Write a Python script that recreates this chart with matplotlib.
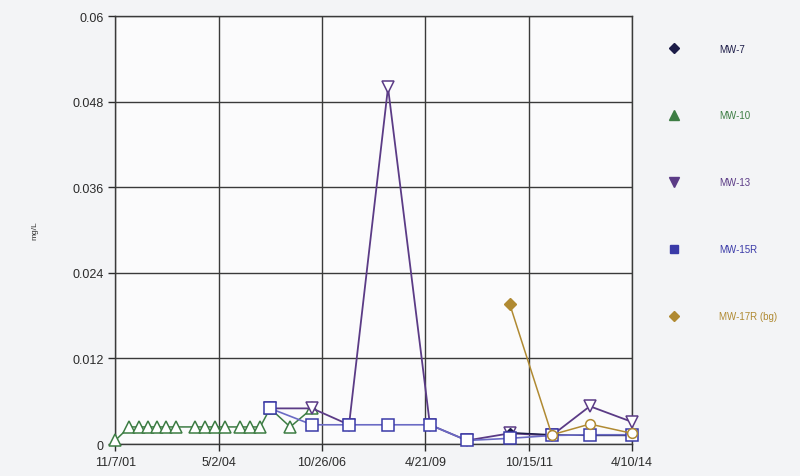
import numpy as np
import pandas as pd
import matplotlib
matplotlib.use("Agg")
import matplotlib.pyplot as plt
from matplotlib.lines import Line2D

plt.rcParams['font.family'] = ['Liberation Sans', 'DejaVu Sans']

# --- data (mg/L) ---
mw10_dates = ['2001-11-07', '2002-03-10', '2002-06-06', '2002-08-24', '2002-11-11',
              '2003-01-29', '2003-04-26', '2003-10-10', '2004-01-06', '2004-04-03',
              '2004-06-29', '2004-11-08', '2005-02-04', '2005-05-03', '2005-07-29',
              '2006-01-21', '2006-08-02']
mw10_vals = [0.0005, 0.0024, 0.0024, 0.0024, 0.0024,
             0.0024, 0.0024, 0.0024, 0.0024, 0.0024,
             0.0024, 0.0024, 0.0024, 0.0024, 0.005,
             0.0024, 0.005]

late_dates = ['2005-07-29', '2006-08-02', '2007-06-22', '2008-05-29', '2009-06-01',
              '2010-04-22', '2011-05-03', '2012-05-06', '2013-04-05', '2014-04-10']
mw13_vals = [0.005, 0.005, 0.0027, 0.05, 0.0027,
             0.0005, 0.0015, 0.0012, 0.0053, 0.0031]
mw15r_vals = [0.005, 0.0027, 0.0027, 0.0027, 0.0027,
              0.0005, 0.0008, 0.0012, 0.0013, 0.0013]

mw7_dates = ['2011-05-03', '2012-05-06', '2013-04-05', '2014-04-10']
mw7_vals = [0.0016, 0.0013, 0.0012, 0.0012]

mw17r_dates = ['2011-05-03', '2012-05-06', '2013-04-05', '2014-04-10']
mw17r_vals = [0.0196, 0.0013, 0.0028, 0.0015]

xtick_dates = ['2001-11-07', '2004-05-02', '2006-10-26', '2009-04-21', '2011-10-15', '2014-04-10']
xtick_labels = ['11/7/01', '5/2/04', '10/26/06', '4/21/09', '10/15/11', '4/10/14']
yticks = [0, 0.012, 0.024, 0.036, 0.048, 0.06]

c7 = '#1c1c48'
c10 = '#3d7d44'
c13 = '#5b3b86'
c15 = '#3a3aa8'
c17 = '#b08a32'

fig = plt.figure(figsize=(8, 4.77), dpi=100)
fig.patch.set_facecolor('#f3f4f6')
ax = fig.add_axes([0.144, 0.067, 0.646, 0.897])
ax.set_facecolor('#fbfbfc')

d = pd.to_datetime
ax.plot(d(mw10_dates), mw10_vals, color=c10, lw=1.1, marker='^', ms=8,
        mfc='white', mec=c10, mew=1.1, clip_on=False, zorder=3)
ax.plot(d(late_dates), mw13_vals, color=c13, lw=1.3, marker='v', ms=8,
        mfc='white', mec=c13, mew=1.1, clip_on=False, zorder=4)
ax.plot(d(late_dates), mw15r_vals, color='#6a6ac4', lw=1.2, marker='s', ms=8,
        mfc='white', mec=c15, mew=1.1, clip_on=False, zorder=5)
ax.plot(d(mw7_dates), mw7_vals, color=c7, lw=1.0, marker='D', ms=5,
        mfc=c7, mec=c7, clip_on=False, zorder=4)
ax.plot(d(mw17r_dates), mw17r_vals, color=c17, lw=1.1, marker='o', ms=7,
        mfc='white', mec=c17, mew=1.1, markevery=[1, 2, 3], clip_on=False, zorder=6)
ax.plot(d(mw17r_dates), mw17r_vals, ls='none', marker='D', ms=6,
        mfc=c17, mec=c17, markevery=[0], zorder=6)

ax.set_xlim(d(xtick_dates[0]), d(xtick_dates[-1]))
ax.set_ylim(0, 0.06)
ax.set_xticks(d(xtick_dates))
ax.set_xticklabels(xtick_labels)
ax.set_yticks(yticks)
ax.set_yticklabels(['%g' % v for v in yticks])
ax.tick_params(axis='both', labelsize=9, colors='#2a2a2a', direction='out',
               length=5, width=1)
ax.grid(True, color='#3a3a3a', lw=1.0)
ax.set_axisbelow(True)
for s in ax.spines.values():
    s.set_color('#3a3a3a')
    s.set_linewidth(1.0)
ax.set_ylabel('mg/L', fontsize=6, color='#333333', labelpad=24)

handles = [
    Line2D([], [], ls='none', marker='D', ms=5, color=c7),
    Line2D([], [], ls='none', marker='^', ms=7, color=c10),
    Line2D([], [], ls='none', marker='v', ms=7, color=c13),
    Line2D([], [], ls='none', marker='s', ms=6, color=c15),
    Line2D([], [], ls='none', marker='D', ms=5, color=c17),
]
labels = ['MW-7', 'MW-10', 'MW-13', 'MW-15R', 'MW-17R (bg)']
leg = fig.legend(handles, labels, loc='upper left', bbox_to_anchor=(0.825, 0.925),
                 frameon=False, fontsize=7, labelspacing=5.85, handletextpad=4.2,
                 handlelength=1.0)
for t, c in zip(leg.get_texts(), [c7, c10, c13, c15, c17]):
    t.set_color(c)

fig.savefig('out.png', dpi=100, facecolor=fig.get_facecolor())
